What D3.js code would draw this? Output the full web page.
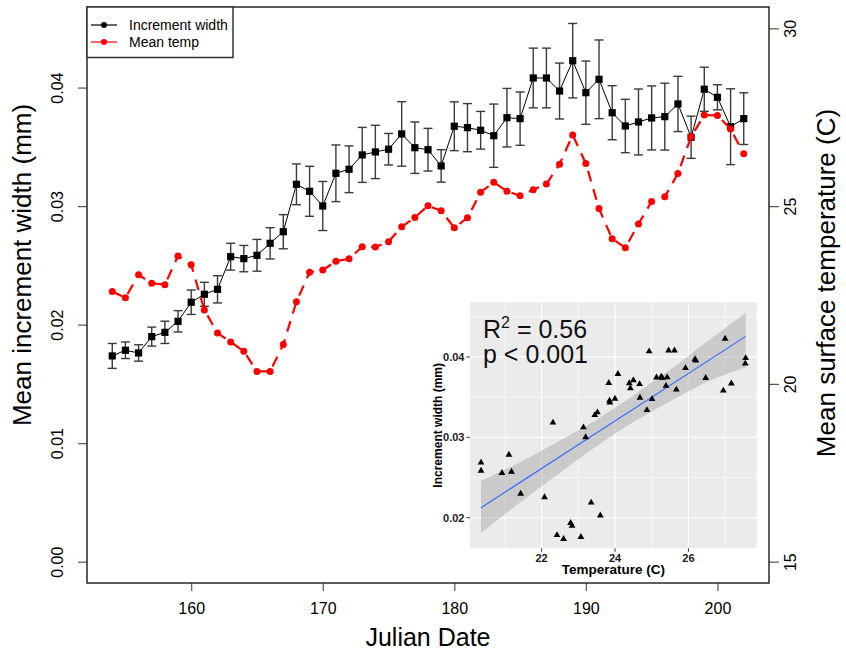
<!DOCTYPE html>
<html><head><meta charset="utf-8">
<script src="https://cdn.jsdelivr.net/npm/d3@7"></script>
<style>body{margin:0;background:#fff} svg{display:block} text{font-family:"Liberation Sans",Arial,sans-serif}</style>
</head><body><svg id="c" width="846" height="661"></svg>
<script>
// ---------------- data ----------------
const days = [154,155,156,157,158,159,160,161,162,163,164,165,166,167,168,169,170,171,172,173,174,175,176,177,178,179,180,181,182,183,184,185,186,187,188,189,190,191,192,193,194,195,196,197,198,199,200,201,202];
const widthMean = [0.01736,0.01784,0.01761,0.01899,0.01935,0.02028,0.02189,0.02256,0.02298,
  0.02573,0.02557,0.02585,0.02686,0.02784,0.03184,0.03125,0.03001,0.03277,0.03311,
  0.03432,0.03457,0.0348,0.03609,0.03493,0.03476,0.03339,0.03674,0.03662,0.0364,
  0.03594,0.03746,0.03738,0.04081,0.04081,0.03971,0.04227,0.03957,0.0407,0.03788,
  0.03676,0.0371,0.03744,0.03755,0.03862,0.03581,0.03986,0.03918,0.0367,0.03738];
const widthSE = [0.00105,0.0007,0.00069,0.0008,0.00094,0.0009,0.00103,0.00101,0.00115,
  0.00113,0.00111,0.00134,0.00132,0.00144,0.00172,0.00211,0.00207,0.00239,0.00197,
  0.00232,0.00225,0.00133,0.00272,0.00217,0.0018,0.00137,0.00206,0.00203,0.00159,
  0.00267,0.00247,0.00225,0.00252,0.00252,0.00236,0.00314,0.00267,0.00332,0.00228,
  0.00225,0.00278,0.0027,0.00282,0.00233,0.00178,0.00186,0.00106,0.0032,0.00218];
const meanTemp = [22.60,22.42,23.07,22.83,22.79,23.60,23.35,22.08,21.43,
  21.18,20.92,20.35,20.35,21.11,22.31,23.14,23.20,23.45,23.52,
  23.86,23.85,24.00,24.42,24.68,25.01,24.87,24.39,24.67,25.39,
  25.67,25.42,25.29,25.46,25.62,26.18,27.00,26.20,24.93,24.08,
  23.83,24.50,25.13,25.26,25.92,26.95,27.56,27.55,27.17,26.47];

const xTicks = [160,170,180,190,200];
const leftTicks = [0,0.01,0.02,0.03,0.04];
const rightTicks = [15,20,25,30];
const legendLabels = ["Increment width","Mean temp"];
const legendColors = ["#000000","#ff0000"];

// inset (regression of width on temperature)
const insetXTicks = [22,24,26];
const insetYTicks = [0.02,0.03,0.04];
const insetXMinor = [21,23,25,27];
const insetYMinor = [0.025,0.035,0.045];
const fitTemp = [20.35,27.56];
const fitWidth = [0.02125,0.04256];
const bandTemp = [20.35,21.5,22.5,23.5,24.5,25.5,26.5,27.56];
const bandLow  = [0.0181,0.0222,0.0256,0.0289,0.0319,0.0345,0.0369,0.0387];
const bandHigh = [0.0246,0.0271,0.0296,0.0322,0.0352,0.0384,0.0419,0.0455];
const statLines = ["0.56","0.001"];

// ---------------- chart ----------------
const svg = d3.select("#c");
svg.append("rect").attr("width",846).attr("height",661).attr("fill","#fff");
const P = {l:87, r:769, t:7, b:583};
const x = d3.scaleLinear().domain([152.08,203.92]).range([P.l,P.r]);
const yL = d3.scaleLinear().domain([-0.0018,0.0468]).range([P.b,P.t]);
const yR = d3.scaleLinear().domain([14.4,30.6]).range([P.b,P.t]);

// increment width series
const gW = svg.append("g");
gW.append("path").datum(widthMean)
  .attr("d", d3.line().x((d,i)=>x(days[i])).y(d=>yL(d)))
  .attr("fill","none").attr("stroke","#000").attr("stroke-width",1);
const eb = gW.selectAll("g.eb").data(widthMean).join("g").attr("class","eb")
  .attr("stroke","#3a3a3a").attr("stroke-width",1.4);
eb.append("line").attr("x1",(d,i)=>x(days[i])).attr("x2",(d,i)=>x(days[i]))
  .attr("y1",(d,i)=>yL(d-widthSE[i])).attr("y2",(d,i)=>yL(d+widthSE[i]));
eb.append("line").attr("x1",(d,i)=>x(days[i])-4.5).attr("x2",(d,i)=>x(days[i])+4.5)
  .attr("y1",(d,i)=>yL(d-widthSE[i])).attr("y2",(d,i)=>yL(d-widthSE[i]));
eb.append("line").attr("x1",(d,i)=>x(days[i])-4.5).attr("x2",(d,i)=>x(days[i])+4.5)
  .attr("y1",(d,i)=>yL(d+widthSE[i])).attr("y2",(d,i)=>yL(d+widthSE[i]));
gW.selectAll("rect.sq").data(widthMean).join("rect").attr("class","sq")
  .attr("x",(d,i)=>x(days[i])-3.6).attr("y",d=>yL(d)-3.6)
  .attr("width",7.2).attr("height",7.2).attr("fill","#000");

// temperature series
const gT = svg.append("g");
gT.append("path").datum(meanTemp)
  .attr("d", d3.line().x((d,i)=>x(days[i])).y(d=>yR(d)))
  .attr("fill","none").attr("stroke","#ff0000").attr("stroke-width",2.2)
  .attr("stroke-dasharray","11,8");
gT.selectAll("circle").data(meanTemp).join("circle")
  .attr("cx",(d,i)=>x(days[i])).attr("cy",d=>yR(d)).attr("r",3.5).attr("fill","#ff0000");

// axes
const tickCol = "#555";
const gB = svg.append("g").attr("transform",`translate(0,${P.b})`)
  .call(d3.axisBottom(x).tickValues(xTicks).tickSize(8).tickSizeOuter(0).tickFormat(d3.format("d")));
gB.select(".domain").remove();
gB.selectAll("line").attr("stroke",tickCol).attr("stroke-width",1.2);
gB.selectAll("text").attr("y",20).attr("font-size",16).attr("fill","#000")
  .attr("font-family","Liberation Sans, Arial, sans-serif");

const gLft = svg.append("g").attr("transform",`translate(${P.l},0)`)
  .call(d3.axisLeft(yL).tickValues(leftTicks).tickSize(9).tickSizeOuter(0).tickFormat(d3.format(".2f")));
gLft.select(".domain").remove();
gLft.selectAll("line").attr("stroke",tickCol).attr("stroke-width",1.2);
gLft.selectAll("text").attr("transform","rotate(-90)").attr("x",0).attr("y",-24.5).attr("dy",null)
  .attr("text-anchor","middle").attr("font-size",16).attr("fill","#000")
  .attr("font-family","Liberation Sans, Arial, sans-serif");

const gRt = svg.append("g").attr("transform",`translate(${P.r},0)`)
  .call(d3.axisRight(yR).tickValues(rightTicks).tickSize(10).tickSizeOuter(0).tickFormat(d3.format("d")));
gRt.select(".domain").remove();
gRt.selectAll("line").attr("stroke",tickCol).attr("stroke-width",1.2);
gRt.selectAll("text").attr("transform","rotate(-90)").attr("x",0).attr("y",27).attr("dy",null)
  .attr("text-anchor","middle").attr("font-size",16).attr("fill","#000")
  .attr("font-family","Liberation Sans, Arial, sans-serif");

// frame
svg.append("rect").attr("x",P.l).attr("y",P.t).attr("width",P.r-P.l).attr("height",P.b-P.t)
  .attr("fill","none").attr("stroke","#1a1a1a").attr("stroke-width",1.4);

// titles
const midY = (P.t+P.b)/2;
svg.append("text").attr("x",(P.l+P.r)/2).attr("y",646).attr("text-anchor","middle")
  .attr("font-size",25).text("Julian Date");
svg.append("text").attr("transform",`translate(31,${midY-30}) rotate(-90)`).attr("text-anchor","middle")
  .attr("font-size",26).text("Mean increment width (mm)");
svg.append("text").attr("transform",`translate(835,${midY-12}) rotate(-90)`).attr("text-anchor","middle")
  .attr("font-size",26).text("Mean surface temperature (C)");

// legend
const lg = svg.append("g");
lg.append("rect").attr("x",P.l).attr("y",P.t).attr("width",146).attr("height",50.5)
  .attr("fill","#fff").attr("stroke","#333").attr("stroke-width",1.5);
legendLabels.forEach((lab,i)=>{
  const yy = 25 + i*17;
  lg.append("line").attr("x1",91).attr("x2",117).attr("y1",yy).attr("y2",yy)
    .attr("stroke",legendColors[i]).attr("stroke-width",1.2);
  lg.append("circle").attr("cx",104).attr("cy",yy).attr("r",3).attr("fill",legendColors[i]);
  lg.append("text").attr("x",129).attr("y",yy+5).attr("font-size",14).attr("fill","#000").text(lab);
});

// ---------------- inset ----------------
const I = {l:470, r:756.7, t:302.3, b:548.3};
const xi = d3.scaleLinear().domain([20.05,27.86]).range([I.l,I.r]);
const yi = d3.scaleLinear().domain([0.0162,0.0468]).range([I.b,I.t]);
const gi = svg.append("g");
gi.append("rect").attr("x",I.l).attr("y",I.t).attr("width",I.r-I.l).attr("height",I.b-I.t).attr("fill","#ebebeb");
gi.selectAll("line.mx").data(insetXMinor).join("line").attr("class","mx")
  .attr("x1",d=>xi(d)).attr("x2",d=>xi(d)).attr("y1",I.t).attr("y2",I.b).attr("stroke","#fff").attr("stroke-width",0.6);
gi.selectAll("line.my").data(insetYMinor).join("line").attr("class","my")
  .attr("y1",d=>yi(d)).attr("y2",d=>yi(d)).attr("x1",I.l).attr("x2",I.r).attr("stroke","#fff").attr("stroke-width",0.6);
gi.selectAll("line.Mx").data(insetXTicks).join("line").attr("class","Mx")
  .attr("x1",d=>xi(d)).attr("x2",d=>xi(d)).attr("y1",I.t).attr("y2",I.b).attr("stroke","#fff").attr("stroke-width",1.2);
gi.selectAll("line.My").data(insetYTicks).join("line").attr("class","My")
  .attr("y1",d=>yi(d)).attr("y2",d=>yi(d)).attr("x1",I.l).attr("x2",I.r).attr("stroke","#fff").attr("stroke-width",1.2);

// ribbon + fit
gi.append("path").datum(bandTemp)
  .attr("d", d3.area().curve(d3.curveMonotoneX).x(d=>xi(d)).y0((d,i)=>yi(bandLow[i])).y1((d,i)=>yi(bandHigh[i])))
  .attr("fill","#999999").attr("fill-opacity",0.4);
gi.append("path").datum(fitTemp)
  .attr("d", d3.line().x(d=>xi(d)).y((d,i)=>yi(fitWidth[i])))
  .attr("stroke","#3366ff").attr("stroke-width",1.1).attr("fill","none");

// points (same daily data paired)
gi.selectAll("path.tri").data(meanTemp).join("path").attr("class","tri")
  .attr("transform",(d,i)=>`translate(${xi(d)},${yi(widthMean[i])})`)
  .attr("d", d3.symbol(d3.symbolTriangle, 20)).attr("fill","#000");

// inset axes
gi.selectAll("line.tx").data(insetXTicks).join("line").attr("class","tx")
  .attr("x1",d=>xi(d)).attr("x2",d=>xi(d)).attr("y1",I.b).attr("y2",I.b+3.5).attr("stroke","#333");
gi.selectAll("line.ty").data(insetYTicks).join("line").attr("class","ty")
  .attr("y1",d=>yi(d)).attr("y2",d=>yi(d)).attr("x1",I.l-3.5).attr("x2",I.l).attr("stroke","#333");
gi.selectAll("text.tx").data(insetXTicks).join("text").attr("class","tx")
  .attr("x",d=>xi(d)).attr("y",561.7).attr("text-anchor","middle")
  .attr("font-size",11).attr("font-weight","bold").attr("fill","#1a1a1a").text(d=>d);
gi.selectAll("text.ty").data(insetYTicks).join("text").attr("class","ty")
  .attr("x",I.l-5.5).attr("y",d=>yi(d)+3.8).attr("text-anchor","end")
  .attr("font-size",11).attr("font-weight","bold").attr("fill","#1a1a1a").text(d=>d3.format(".2f")(d));
gi.append("text").attr("x",(I.l+I.r)/2).attr("y",574.3).attr("text-anchor","middle")
  .attr("font-size",13.5).attr("font-weight","bold").attr("fill","#000").text("Temperature (C)");
gi.append("text").attr("transform",`translate(442,${(I.t+I.b)/2}) rotate(-90)`).attr("text-anchor","middle")
  .attr("font-size",12).attr("font-weight","bold").attr("fill","#000").text("Increment width (mm)");

// stats annotation
const t1 = gi.append("text").attr("x",483).attr("y",337.7).attr("font-size",25).attr("fill","#111");
t1.append("tspan").text("R");
t1.append("tspan").attr("font-size",16).attr("dy",-10).text("2");
t1.append("tspan").attr("dy",10).text(" = " + statLines[0]);
gi.append("text").attr("x",483).attr("y",363.3).attr("font-size",25).attr("fill","#111")
  .text("p < " + statLines[1]);
</script>
</body></html>
